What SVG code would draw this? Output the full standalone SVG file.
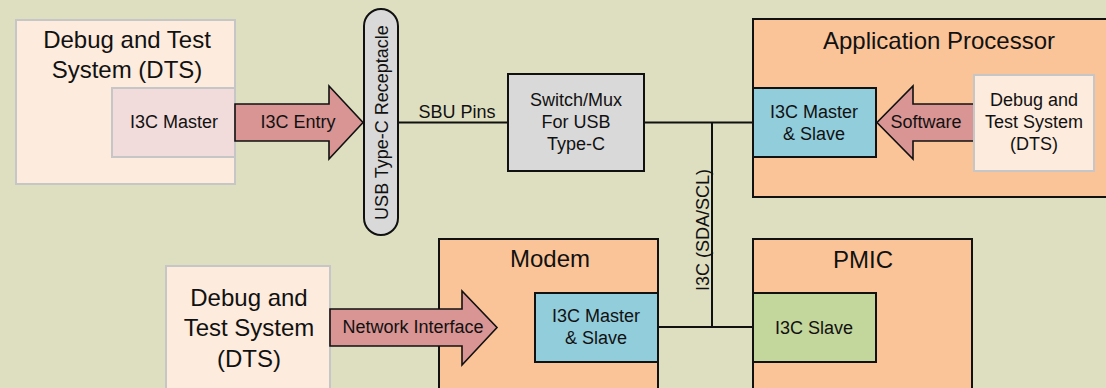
<svg xmlns="http://www.w3.org/2000/svg" width="1106" height="388" viewBox="0 0 1106 388">
  <style>
    text { font-family: "Liberation Sans", Arial, sans-serif; fill: #111; text-anchor: middle; }
    .t18 { font-size: 18px; }
    .t23 { font-size: 24px; }
    .dts { fill: #FDEBDD; stroke: #C6C6C6; stroke-width: 2; }
    .chip { fill: #FAC498; stroke: #111; stroke-width: 2; }
    .blue { fill: #92CDDC; stroke: #111; stroke-width: 2; }
    .green { fill: #C3D69B; stroke: #111; stroke-width: 2; }
    .grey { fill: #D9D9D9; stroke: #111; stroke-width: 2; }
    .pinkbox { fill: #F2DCDB; stroke: #C6C6C6; stroke-width: 2; }
    .arrow { fill: #D99594; stroke: #111; stroke-width: 1.6; stroke-linejoin: miter; }
    .wire { fill: none; stroke: #111; stroke-width: 2; }
  </style>
  <rect width="1106" height="388" fill="#DEDEC1"/>

  <!-- bus wiring -->
  <g id="connectors">
    <path class="wire" d="M398 122.5 H508"/>
    <path class="wire" d="M644 122.5 H753"/>
    <path class="wire" d="M712 122.5 V327 M658 327 H753"/>
    <text class="t18" x="457" y="118">SBU Pins</text>
    <text class="t18" transform="translate(709 230) rotate(-90)" x="0" y="0">I3C (SDA/SCL)</text>
  </g>

  <!-- debug host, top left -->
  <g id="dts-top">
    <rect class="dts" x="16" y="20" width="219" height="164"/>
    <text class="t23" x="127" y="48">Debug and Test</text>
    <text class="t23" x="127" y="78">System (DTS)</text>
    <rect class="pinkbox" x="112" y="88" width="123" height="69"/>
    <text class="t18" x="174" y="128">I3C Master</text>
  </g>

  <g id="i3c-entry">
    <path class="arrow" d="M235 104 H329 V86 L363 122.5 L329 159 V141 H235 Z"/>
    <text class="t18" x="298" y="128">I3C Entry</text>
  </g>

  <g id="usb-receptacle">
    <rect class="grey" x="364" y="9" width="34" height="226" rx="17" ry="17"/>
    <text class="t18" transform="translate(388 122.5) rotate(-90)" x="0" y="0">USB Type-C Receptacle</text>
  </g>

  <g id="switch-mux">
    <rect class="grey" x="508" y="74" width="136" height="97"/>
    <text class="t18" x="576" y="106">Switch/Mux</text>
    <text class="t18" x="576" y="128">For USB</text>
    <text class="t18" x="576" y="150">Type-C</text>
  </g>

  <g id="application-processor">
    <rect class="chip" x="753" y="19" width="365" height="178"/>
    <text class="t23" x="939" y="49">Application Processor</text>
    <rect class="blue" x="753" y="88" width="123" height="69"/>
    <text class="t18" x="814" y="118">I3C Master</text>
    <text class="t18" x="814" y="140">&amp; Slave</text>
    <path class="arrow" d="M974 104 H913 V86 L877 122.5 L913 159 V141 H974 Z"/>
    <text class="t18" x="926" y="128">Software</text>
    <rect class="dts" x="974" y="75" width="120" height="96"/>
    <text class="t18" x="1034" y="106">Debug and</text>
    <text class="t18" x="1034" y="128">Test System</text>
    <text class="t18" x="1034" y="150">(DTS)</text>
  </g>

  <g id="modem">
    <rect class="chip" x="439" y="239" width="219" height="160"/>
    <text class="t23" x="550" y="267">Modem</text>
    <rect class="blue" x="535" y="293" width="123" height="69"/>
    <text class="t18" x="596" y="322">I3C Master</text>
    <text class="t18" x="596" y="344">&amp; Slave</text>
  </g>

  <g id="pmic">
    <rect class="chip" x="753" y="239" width="219" height="160"/>
    <text class="t23" x="863" y="268">PMIC</text>
    <rect class="green" x="753" y="293" width="123" height="69"/>
    <text class="t18" x="814" y="334">I3C Slave</text>
  </g>

  <g id="dts-bottom">
    <rect class="dts" x="166" y="266" width="164" height="130"/>
    <text class="t23" x="249" y="306">Debug and</text>
    <text class="t23" x="249" y="336">Test System</text>
    <text class="t23" x="249" y="367">(DTS)</text>
  </g>

  <g id="network-interface">
    <path class="arrow" d="M330 309 H462 V291 L497 327.5 L462 365 V346 H330 Z"/>
    <text class="t18" x="413" y="333">Network Interface</text>
  </g>
</svg>
